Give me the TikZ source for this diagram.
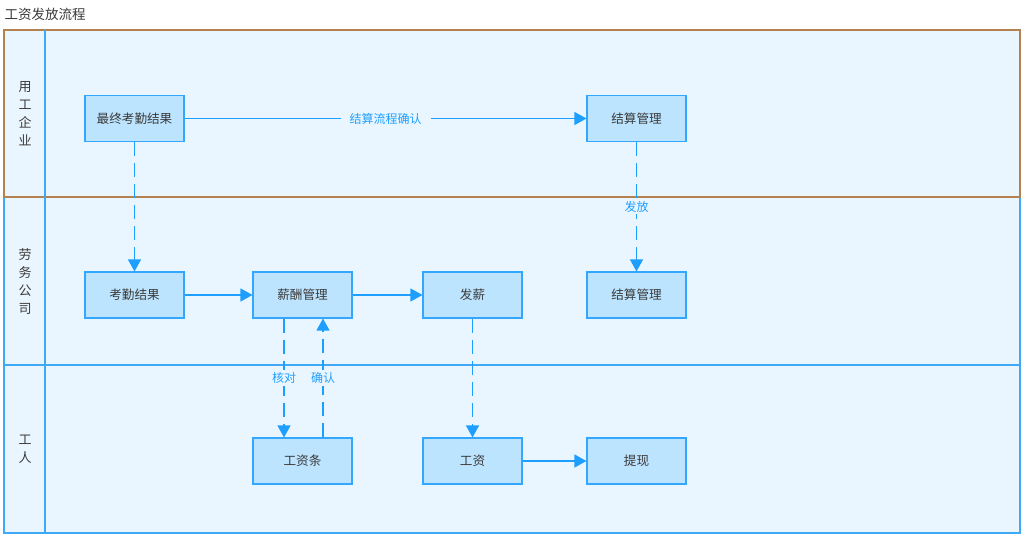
\documentclass[tikz,border=0pt]{standalone}
\usepackage{fontspec}
\setmainfont{Noto Sans CJK SC}
\usetikzlibrary{arrows.meta}
\definecolor{lanebg}{HTML}{EAF6FF}
\definecolor{laneblue}{HTML}{3FA9F5}
\definecolor{lanebrown}{HTML}{B5824F}
\definecolor{boxfill}{HTML}{BDE4FF}
\definecolor{boxline}{HTML}{33A6FF}
\definecolor{flowline}{HTML}{1E9FFF}
\definecolor{txt}{HTML}{3A3A3A}

\begin{document}
\begin{tikzpicture}[x = 1pt, y = -1pt,
	box/.style = {draw = boxline, fill = boxfill, line width = 1.1pt, minimum width = 99pt, minimum height = 46pt,
		font = \fontsize{12.6}{14}\selectfont, text = txt},
	flow/.style = {draw = flowline, line width = 1.2pt, -{Triangle[width = 13pt, length = 12pt]}},
	dashflow/.style = {flow, dash pattern = on 14pt off 7pt},
	tag/.style = {fill = lanebg, text = flowline, font = \fontsize{12}{14}\selectfont, inner xsep = 6pt, inner ysep = 2pt},
	lanetext/.style = {align = center, text = txt, font = \fontsize{13}{18}\selectfont}]
	\useasboundingbox[fill = white] (0,0) rectangle (1024,540);

	\node[anchor = west, text = txt, font = \fontsize{13.5}{15}\selectfont] (title) at (1,14) {工资发放流程};

	\fill[lanebg] (4,30) rectangle (1020,533);
	\draw[laneblue, line width = 1.2pt] (4,197) rectangle (1020,365);
	\draw[laneblue, line width = 1.2pt] (4,365) rectangle (1020,533);
	\draw[lanebrown, line width = 1.2pt] (4,30) rectangle (1020,197);
	\draw[laneblue, line width = 1.2pt] (45,30) -- (45,533);

	\node[lanetext] (L1) at (25,114) {用\\工\\企\\业};
	\node[lanetext] (L2) at (25,282) {劳\\务\\公\\司};
	\node[lanetext] (L3) at (25,449) {工\\人};

	\node[box] (final) at (134.5,118.5) {最终考勤结果};
	\node[box] (settle1) at (636.5,118.5) {结算管理};

	\node[box] (attend) at (134.5,295) {考勤结果};
	\node[box] (salary) at (302.5,295) {薪酬管理};
	\node[box] (pay) at (472.5,295) {发薪};
	\node[box] (settle2) at (636.5,295) {结算管理};

	\node[box] (slip) at (302.5,461) {工资条};
	\node[box] (wage) at (472.5,461) {工资};
	\node[box] (cash) at (636.5,461) {提现};

	\draw[flow] (final) -- node[tag, inner xsep = 9pt]{结算流程确认} (settle1);
	\draw[dashflow] (final) -- (attend);
	\draw[dashflow] (settle1) -- node[tag]{发放} (settle2);

	\draw[flow] (attend) -- (salary);
	\draw[flow] (salary) -- (pay);
	\draw[dashflow] (pay) -- (wage);
	\draw[flow] (wage) -- (cash);

	\draw[dashflow] ([xshift = -18.5pt]salary.south) -- node[tag]{核对} ([xshift = -18.5pt]slip.north);
	\draw[dashflow] ([xshift = 20.5pt]slip.north) -- node[tag]{确认} ([xshift = 20.5pt]salary.south);
\end{tikzpicture}
\end{document}
